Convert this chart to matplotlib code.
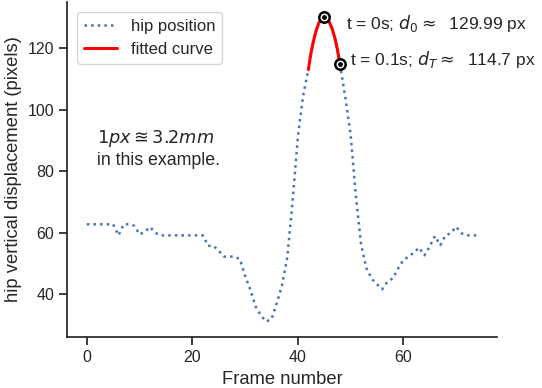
import numpy as np
import matplotlib
matplotlib.use("Agg")
import matplotlib.pyplot as plt
import seaborn as sns

# hip vertical position per frame
frames = np.arange(75)
hip = [62.7, 62.7, 62.7, 62.7, 62.7, 62.7, 59.1, 62.7, 62.7, 62.2,
       59.4, 60.3, 61.8, 59.9, 59.1, 59.1, 59.1, 59.1, 59.1, 59.1,
       59.1, 59.1, 59.1, 55.7, 55.7, 54.1, 52.2, 52.2, 52.2, 51.4,
       46.0, 41.4, 36.0, 33.0, 31.1, 31.8, 37.0, 42.8, 52.0, 70.0,
       91.0, 104.5, 113.0, 123.0, 128.2, 130.0, 128.3, 123.4, 114.7, 104.0,
       92.0, 72.0, 56.0, 48.5, 45.0, 43.2, 41.6, 44.1, 45.1, 48.3,
       51.0, 52.2, 53.5, 55.1, 52.6, 55.5, 58.9, 55.9, 59.1, 59.8,
       61.9, 59.8, 59.1, 59.1, 59.1]

# fitted parabola around the jump apex
fit_x = [42, 42.5, 43, 43.5, 44, 44.5, 45, 45.5, 46, 46.5, 47, 47.5, 48]
fit_y = [113.0, 118.5, 122.5, 125.8, 128.2, 129.6, 130.0, 129.6, 128.3,
         126.3, 123.4, 119.6, 114.7]

# the two marked points
pt_x = [45, 48]
pt_y = [129.99, 114.7]

sns.set_theme(style="ticks")
plt.rcParams['font.family'] = ['Liberation Sans', 'DejaVu Sans']

fig, ax = plt.subplots(figsize=(5.42, 3.88), dpi=100)
fig.subplots_adjust(left=0.1242, right=0.9164, top=0.9948, bottom=0.1322)

ax.plot(frames, hip, linestyle=':', linewidth=1.8, color='#4c72b0', label='hip position')
ax.plot(fit_x, fit_y, color='red', linewidth=2.2, label='fitted curve')
ax.plot(pt_x, pt_y, linestyle='none', marker='o', markersize=7.5,
        markerfacecolor='white', markeredgecolor='black', markeredgewidth=1.8)
ax.plot(pt_x, pt_y, linestyle='none', marker='o', markersize=2.5, color='black')

ax.text(49.1, 127.8, r't = 0s; $d_0\approx$  129.99 px', fontsize=12.5,
        va='center', ha='left', color='.15')
ax.text(49.9, 116.2, r't = 0.1s; $d_T\approx$  114.7 px', fontsize=12.5,
        va='center', ha='left', color='.15')
ax.text(2.0, 94.0, '$1px\\approxeq3.2mm$\nin this example.', fontsize=12.8,
        va='top', ha='left', color='.15')

ax.set_xticks([0, 20, 40, 60])
ax.set_yticks([40, 60, 80, 100, 120])
ax.tick_params(labelsize=11.5)
ax.set_xlabel('Frame number', fontsize=13.2, labelpad=4.5)
ax.set_ylabel('hip vertical displacement (pixels)', fontsize=13.2)

ax.legend(loc='upper left', fontsize=12, borderaxespad=0.6)
sns.despine()

plt.savefig('out.png', dpi=100)
